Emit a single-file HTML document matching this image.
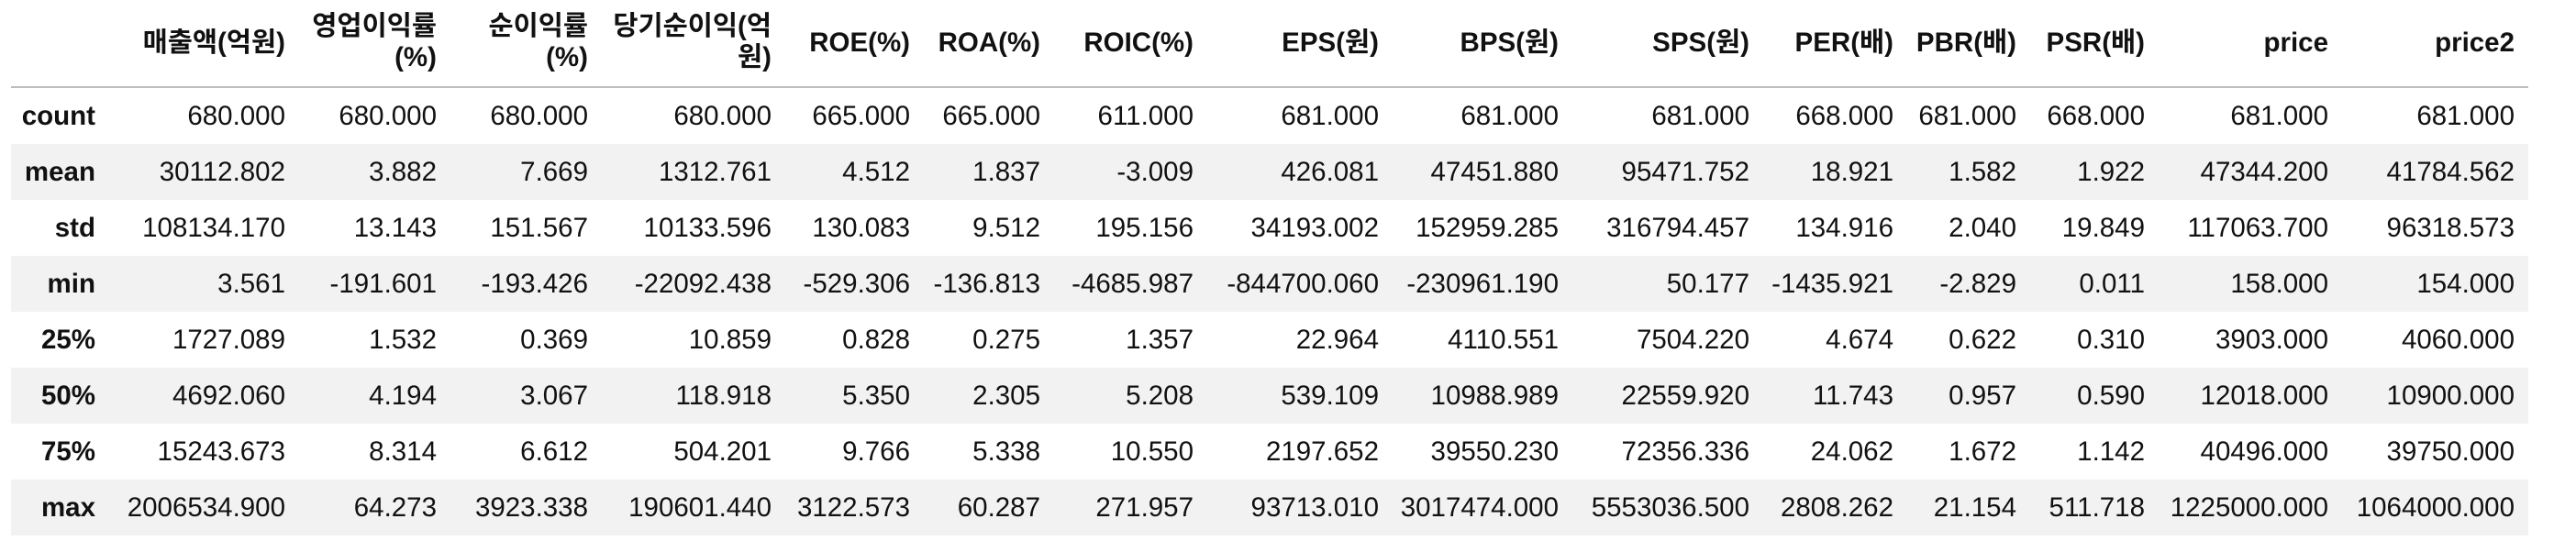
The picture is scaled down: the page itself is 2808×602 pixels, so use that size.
<!DOCTYPE html>
<html><head><meta charset="utf-8">
<style>
html,body{margin:0;padding:0;background:#fff;width:2808px;height:602px;overflow:hidden}
#t{position:absolute;left:0;top:0;width:2808px;height:602px;font-family:"Liberation Sans","Noto Sans CJK KR",sans-serif;font-size:29.5px;color:#111}
.c{position:absolute;white-space:nowrap;text-align:right;line-height:34px}
.h{font-weight:bold}
.row{position:absolute;left:12px;width:2744px;height:61px}
</style></head><body>
<div id="t">
<div style="position:absolute;left:12px;width:2744px;top:94px;height:2px;background:#bdbdbd"></div>
</div>
<script>
const headers=[["매출액(억원)"],["영업이익률","(%)"],["순이익률","(%)"],["당기순이익(억","원)"],["ROE(%)"],["ROA(%)"],["ROIC(%)"],["EPS(원)"],["BPS(원)"],["SPS(원)"],["PER(배)"],["PBR(배)"],["PSR(배)"],["price"],["price2"]];
const rowLabels=["count","mean","std","min","25%","50%","75%","max"];
const values=[
["680.000","680.000","680.000","680.000","665.000","665.000","611.000","681.000","681.000","681.000","668.000","681.000","668.000","681.000","681.000"],
["30112.802","3.882","7.669","1312.761","4.512","1.837","-3.009","426.081","47451.880","95471.752","18.921","1.582","1.922","47344.200","41784.562"],
["108134.170","13.143","151.567","10133.596","130.083","9.512","195.156","34193.002","152959.285","316794.457","134.916","2.040","19.849","117063.700","96318.573"],
["3.561","-191.601","-193.426","-22092.438","-529.306","-136.813","-4685.987","-844700.060","-230961.190","50.177","-1435.921","-2.829","0.011","158.000","154.000"],
["1727.089","1.532","0.369","10.859","0.828","0.275","1.357","22.964","4110.551","7504.220","4.674","0.622","0.310","3903.000","4060.000"],
["4692.060","4.194","3.067","118.918","5.350","2.305","5.208","539.109","10988.989","22559.920","11.743","0.957","0.590","12018.000","10900.000"],
["15243.673","8.314","6.612","504.201","9.766","5.338","10.550","2197.652","39550.230","72356.336","24.062","1.672","1.142","40496.000","39750.000"],
["2006534.900","64.273","3923.338","190601.440","3122.573","60.287","271.957","93713.010","3017474.000","5553036.500","2808.262","21.154","511.718","1225000.000","1064000.000"]];
const t=document.getElementById('t');
const rights=[104,311,476,641,841,992,1134,1301,1503,1699,1907,2064,2198,2338,2538,2741];
function cell(txt,right,cy,bold){
  const d=document.createElement('div');
  d.className='c'+(bold?' h':'');
  d.textContent=txt;
  d.style.right=(2808-right)+'px';
  d.style.top=(cy-17)+'px';
  t.appendChild(d);
  return d;
}
rowLabels.forEach((lab,i)=>{
  const top=96+61*i;
  if(i%2===1){
    const r=document.createElement('div');
    r.className='row';
    
    
    r.style.top=top+'px';r.style.background='#f2f2f2';
    t.appendChild(r);
  }
});
headers.forEach((h,j)=>{
  h.forEach((line,k)=>{
    const cy=h.length===1?47:(k===0?29:63);
    const d=cell(line,rights[j+1],cy,true);
    
    
  });
});
rowLabels.forEach((lab,i)=>{
  const cy=96+61*i+31;
  const d=cell(lab,rights[0],cy,true);
  
  
  values[i].forEach((v,j)=>{
    const e=cell(v,rights[j+1],cy,false);
    
    
  });
});
</script>
</body></html>
